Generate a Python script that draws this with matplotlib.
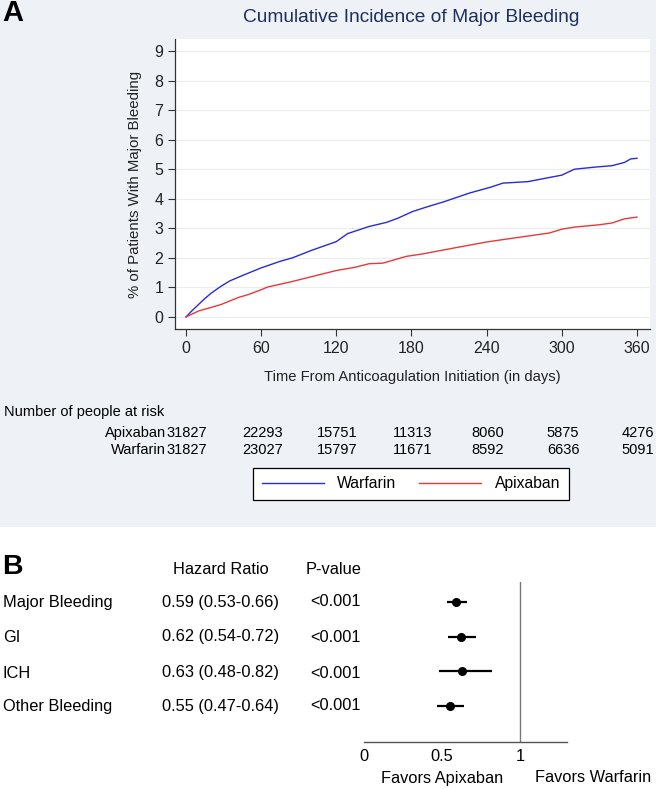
import matplotlib
matplotlib.use('Agg')
import matplotlib.pyplot as plt
import matplotlib.transforms as mtransforms
from matplotlib.patches import Rectangle
from matplotlib.lines import Line2D

plt.rcParams['font.family'] = ['Liberation Sans', 'DejaVu Sans']

W, H = 656, 789

# panel A: cumulative incidence
warf_days = [0, 5, 10, 15, 20, 28, 35, 45, 60, 75, 85, 100, 120, 129, 146, 160, 169, 181,
             192, 206, 226, 243, 253, 273, 290, 300, 310, 326, 340, 350, 355, 360]
warf_pct = [0, 0.22, 0.42, 0.62, 0.8, 1.04, 1.22, 1.4, 1.66, 1.88, 2.0, 2.25, 2.55, 2.82,
            3.06, 3.2, 3.34, 3.57, 3.72, 3.9, 4.19, 4.39, 4.53, 4.58, 4.72, 4.8, 5.0, 5.07,
            5.12, 5.23, 5.35, 5.37]
apix_days = [0, 10, 20, 28, 42, 50, 60, 65, 85, 100, 120, 135, 146, 157, 176, 190, 206,
             220, 239, 255, 270, 290, 300, 310, 330, 340, 350, 360]
apix_pct = [0, 0.2, 0.32, 0.42, 0.66, 0.76, 0.92, 1.01, 1.2, 1.36, 1.57, 1.68, 1.8, 1.82,
            2.05, 2.14, 2.27, 2.38, 2.53, 2.63, 2.72, 2.84, 2.97, 3.04, 3.12, 3.18, 3.32, 3.38]

risk_days = [0, 60, 120, 180, 240, 300, 360]
risk_apix = [31827, 22293, 15751, 11313, 8060, 5875, 4276]
risk_warf = [31827, 23027, 15797, 11671, 8592, 6636, 5091]

# panel B: hazard ratios
outcomes = ['Major Bleeding', 'GI', 'ICH', 'Other Bleeding']
hr = [0.59, 0.62, 0.63, 0.55]
hr_lo = [0.53, 0.54, 0.48, 0.47]
hr_hi = [0.66, 0.72, 0.82, 0.64]
pvals = ['<0.001', '<0.001', '<0.001', '<0.001']

BLUE = '#2a2ad8'
RED = '#e8383a'
BG = '#eef1f6'
NAVY = '#1c2f5e'


def fx(x):
    return x / W


def fy(y):
    return 1 - y / H


def px_axes(x0, y0, x1, y1):
    return [fx(x0), fy(y1), fx(x1) - fx(x0), fy(y0) - fy(y1)]


fig = plt.figure(figsize=(W / 100, H / 100), dpi=100)
fig.patch.set_facecolor('white')
fig.add_artist(Rectangle((0, fy(527)), 1, 1 - fy(527), transform=fig.transFigure,
                         facecolor=BG, edgecolor='none', zorder=0))

# ---- panel A ----
ax = fig.add_axes(px_axes(175, 39, 650, 329))
ax.set_facecolor('white')
ax.plot(warf_days, warf_pct, color=BLUE, lw=1.0)
ax.plot(apix_days, apix_pct, color=RED, lw=1.0)
ax.set_xlim(-8.8, 370.4)
ax.set_ylim(-0.41, 9.41)
ax.set_xticks(risk_days)
ax.set_yticks(range(10))
ax.yaxis.grid(True, color='#e9ecf0', lw=0.8)
ax.set_axisbelow(True)
for s in ['top', 'right']:
    ax.spines[s].set_visible(False)
for s in ['left', 'bottom']:
    ax.spines[s].set_color('#333333')
    ax.spines[s].set_linewidth(0.9)
ax.tick_params(colors='#333333', labelsize=11.5, length=5, width=0.8, labelcolor='#222222')
ax.set_xlabel('Time From Anticoagulation Initiation (in days)', fontsize=10.6, color='#222222',
              labelpad=10)
ax.set_ylabel('% of Patients With Major Bleeding', fontsize=10.8, color='#222222', labelpad=9)
fig.text(fx(411), fy(17), 'Cumulative Incidence of Major Bleeding', fontsize=13.8,
         color=NAVY, ha='center', va='center')
fig.text(fx(2), fy(13), 'A', fontsize=21, fontweight='bold', ha='left', va='center')

# risk table under the x axis
trans = mtransforms.blended_transform_factory(ax.transData, fig.transFigure)
fig.text(fx(4), fy(412), 'Number of people at risk', fontsize=10.5, ha='left', va='center')
fig.text(fx(166), fy(433), 'Apixaban', fontsize=10.5, ha='right', va='center')
fig.text(fx(166), fy(450), 'Warfarin', fontsize=10.5, ha='right', va='center')
for d, a, w in zip(risk_days, risk_apix, risk_warf):
    ax.text(d + 1, fy(433), str(a), transform=trans, fontsize=10.5, ha='center', va='center')
    ax.text(d + 1, fy(450), str(w), transform=trans, fontsize=10.5, ha='center', va='center')

handles = [Line2D([], [], color=BLUE, lw=1.0), Line2D([], [], color=RED, lw=1.0)]
leg = fig.legend(handles, ['Warfarin', 'Apixaban'], ncol=2, loc='center',
                 bbox_to_anchor=(fx(411), fy(484)), fontsize=11.3, frameon=True,
                 fancybox=False, edgecolor='black', facecolor='white', framealpha=1,
                 handlelength=3.95, columnspacing=1.45, handletextpad=0.85, borderpad=0.55)
leg.get_frame().set_linewidth(0.9)

# ---- panel B ----
fig.text(fx(2), fy(567), 'B', fontsize=20.5, fontweight='bold', ha='left', va='center')
fig.text(fx(221), fy(570), 'Hazard Ratio', fontsize=11.8, ha='center', va='center')
fig.text(fx(334), fy(570), 'P-value', fontsize=11.8, ha='center', va='center')

rows_y = [602, 637, 673, 706]
for name, h, lo, hi, p, ry in zip(outcomes, hr, hr_lo, hr_hi, pvals, rows_y):
    fig.text(fx(3), fy(ry), name, fontsize=11.8, ha='left', va='center')
    fig.text(fx(162), fy(ry), f'{h:.2f} ({lo:.2f}-{hi:.2f})', fontsize=11.8,
             ha='left', va='center')
    fig.text(fx(310), fy(ry), p, fontsize=11.8, ha='left', va='center')

fax = fig.add_axes(px_axes(364, 582, 567, 742))
fax.patch.set_alpha(0)
ypos = [4, 3, 2, 1]
for h, lo, hi, yy in zip(hr, hr_lo, hr_hi, ypos):
    fax.plot([lo, hi], [yy, yy], color='black', lw=1.6, solid_capstyle='butt')
    fax.plot(h, yy, 'o', color='black', ms=5.5)
fax.axvline(1, color='#777777', lw=1.0)
fax.set_xlim(0, 1.3)
fax.set_ylim(-0.04, 4.58)
fax.set_xticks([0, 0.5, 1])
fax.set_xticklabels(['0', '0.5', '1'])
fax.set_yticks([])
for s in ['top', 'right', 'left']:
    fax.spines[s].set_visible(False)
fax.spines['bottom'].set_color('#555555')
fax.spines['bottom'].set_linewidth(1.0)
fax.tick_params(axis='x', length=0, labelsize=11.8, pad=5)
fig.text(fx(442), fy(778), 'Favors Apixaban', fontsize=11.8, ha='center', va='center')
fig.text(fx(593), fy(778), 'Favors Warfarin', fontsize=11.8, ha='center', va='center')

fig.savefig('out.png', dpi=100, facecolor=fig.get_facecolor())
